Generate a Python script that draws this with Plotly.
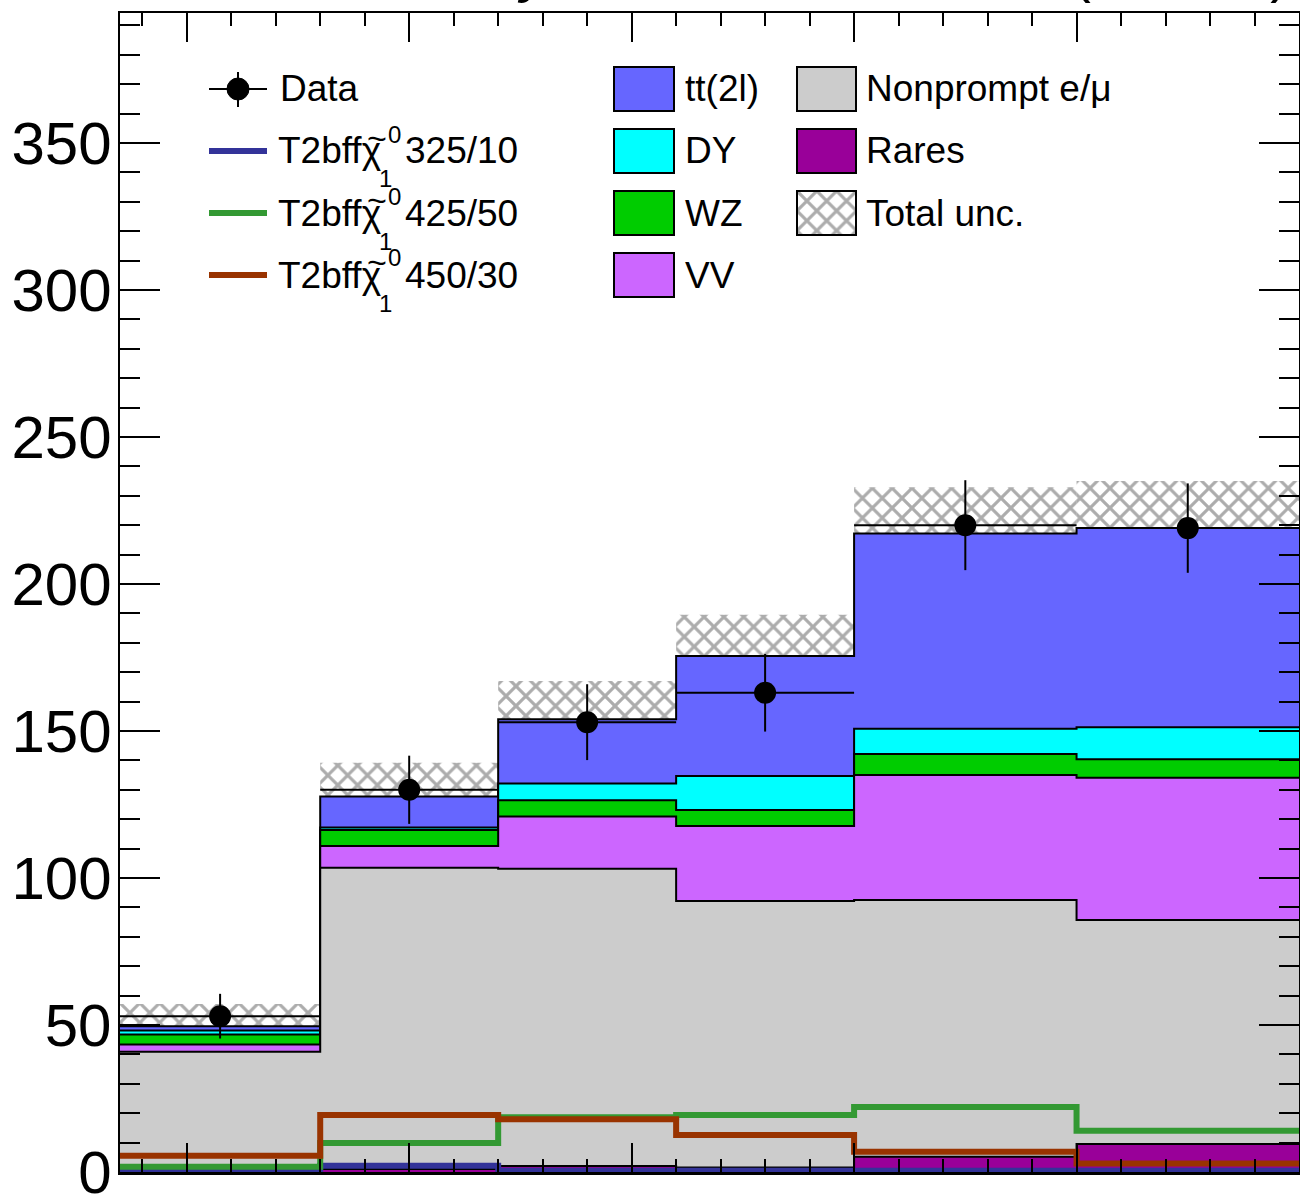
import plotly.graph_objects as go

# ---------------- data ----------------
bin_edges = [70, 160, 240, 320, 400, 500, 600]

rares     = [0.5, 1.0, 2.0, 1.5, 5.2, 9.5]
nonprompt = [40.4, 102.5, 101.1, 90.7, 87.3, 76.2]
vv        = [2.5, 7.4, 17.8, 25.5, 42.5, 48.4]
wz        = [3.4, 5.4, 5.5, 5.4, 7.2, 6.3]
dy        = [1.3, 0.9, 5.7, 11.6, 8.6, 10.9]
ttbar     = [1.5, 10.5, 21.9, 40.8, 66.4, 67.7]
total_unc = [7.5, 11.5, 13.0, 14.0, 15.7, 16.0]

data     = [53, 130, 153, 163, 220, 219]
data_err = [7.6, 11.6, 12.9, 13.2, 15.3, 15.2]

sig_325_10 = [0.0, 2.1, 0.4, 0.4, 0.4, 0.4]
sig_425_50 = [1.8, 9.9, 18.6, 19.4, 22.1, 14.0]
sig_450_30 = [5.5, 19.4, 17.9, 12.6, 6.9, 2.9]

bkg_names = ["Rares", "Nonprompt e/\u03bc", "VV", "WZ", "DY", "tt(2l)"]
bkg_colors = ["#990099", "#cccccc", "#cc66ff", "#00cc00", "#00ffff", "#6666ff"]
sig_names = ["325/10", "425/50", "450/30"]
sig_colors = ["#333399", "#339933", "#993300"]

# ---------------- helpers ----------------
FONT = "Liberation Sans, Arial, Helvetica, sans-serif"
L, R, T, B = 120, 1, 13, 29
W, H = 1300, 1201
PW, PH = W - L - R, H - T - B


def X(p):
    return (p - L) / PW


def Y(p):
    return (H - B - p) / PH


centers = [(bin_edges[i] + bin_edges[i + 1]) / 2 for i in range(6)]
widths = [bin_edges[i + 1] - bin_edges[i] for i in range(6)]
half_w = [w / 2 for w in widths]

fig = go.Figure()

# stacked backgrounds: draw cumulative levels from top to bottom
bkg_vals = [rares, nonprompt, vv, wz, dy, ttbar]
cum = [0.0] * 6
levels = []
for vals in bkg_vals:
    cum = [c + v for c, v in zip(cum, vals)]
    levels.append(list(cum))
total = levels[-1]

for lev, col in reversed(list(zip(levels, bkg_colors))):
    fig.add_trace(go.Scatter(
        x=bin_edges, y=lev + [lev[-1]], mode="lines",
        line=dict(shape="hv", color="black", width=2),
        fill="tozeroy", fillcolor=col, hoverinfo="skip", showlegend=False))

HATCH = dict(shape="x", fgcolor="#595959", size=14, solidity=0.4, fillmode="overlay")

# total uncertainty hatch
fig.add_trace(go.Bar(
    x=centers, y=[2 * u for u in total_unc],
    base=[t - u for t, u in zip(total, total_unc)],
    width=widths,
    marker=dict(color="rgba(0,0,0,0)", line=dict(width=0),
                pattern=dict(bgcolor="rgba(0,0,0,0)", **HATCH)),
    showlegend=False, hoverinfo="skip"))

# signals
for vals, col in zip([sig_325_10, sig_425_50, sig_450_30], sig_colors):
    fig.add_trace(go.Scatter(
        x=bin_edges, y=vals + [vals[-1]], mode="lines",
        line=dict(shape="hv", color=col, width=6), showlegend=False, hoverinfo="skip"))

# data
fig.add_trace(go.Scatter(
    x=centers, y=data, mode="markers",
    marker=dict(size=22, color="black"),
    error_y=dict(type="data", array=data_err, thickness=2, width=0, color="black"),
    error_x=dict(type="data", array=half_w, thickness=2, width=0, color="black"),
    showlegend=False, hoverinfo="skip"))

# hatch swatch for the legend (own small axes)
fig.add_trace(go.Bar(
    x=[0.5], y=[1], width=[1], xaxis="x2", yaxis="y2",
    marker=dict(color="rgba(0,0,0,0)", line=dict(width=0),
                pattern=dict(bgcolor="white", **HATCH)),
    showlegend=False, hoverinfo="skip"))

shapes = []
annotations = []

rows = [89, 151, 213, 275]
FS = 37


def text(x, y, s, size=FS, anchor="left"):
    annotations.append(dict(x=X(x), y=Y(y), xref="paper", yref="paper", text=s,
                            showarrow=False, xanchor=anchor, yanchor="middle",
                            font=dict(family=FONT, size=size, color="black")))


# column 1: Data
shapes.append(dict(type="line", xref="paper", yref="paper", x0=X(209), x1=X(267),
                   y0=Y(rows[0]), y1=Y(rows[0]), line=dict(color="black", width=2)))
shapes.append(dict(type="line", xref="paper", yref="paper", x0=X(238), x1=X(238),
                   y0=Y(72), y1=Y(107), line=dict(color="black", width=2)))
shapes.append(dict(type="circle", xref="paper", yref="paper", x0=X(227), x1=X(249),
                   y0=Y(100), y1=Y(78), fillcolor="black", line=dict(color="black", width=1)))
text(278, rows[0], "Data")

# column 1: signals
for yc, name, col in zip(rows[1:], sig_names, sig_colors):
    shapes.append(dict(type="line", xref="paper", yref="paper", x0=X(209), x1=X(267),
                       y0=Y(yc), y1=Y(yc), line=dict(color=col, width=6)))
    text(276, yc, "T2bff\u03c7")
    text(377, yc - 13, "~", size=34, anchor="center")
    text(386, yc - 17, "0", size=24)
    text(377, yc + 28, "1", size=24)
    text(403, yc, name)

# column 2 and 3 boxes
col2 = [("tt(2l)", bkg_colors[5]), ("DY", bkg_colors[4]), ("WZ", bkg_colors[3]), ("VV", bkg_colors[2])]
for yc, (name, col) in zip(rows, col2):
    shapes.append(dict(type="rect", xref="paper", yref="paper", x0=X(614), x1=X(674),
                       y0=Y(yc + 22), y1=Y(yc - 22), fillcolor=col,
                       line=dict(color="black", width=2)))
    text(683, yc, name)

col3 = [("Nonprompt e/\u03bc", bkg_colors[1]), ("Rares", bkg_colors[0])]
for yc, (name, col) in zip(rows[:2], col3):
    shapes.append(dict(type="rect", xref="paper", yref="paper", x0=X(797), x1=X(856),
                       y0=Y(yc + 22), y1=Y(yc - 22), fillcolor=col,
                       line=dict(color="black", width=2)))
    text(864, yc, name)
shapes.append(dict(type="rect", xref="paper", yref="paper", x0=X(797), x1=X(856),
                   y0=Y(rows[2] + 22), y1=Y(rows[2] - 22), fillcolor="rgba(0,0,0,0)",
                   line=dict(color="black", width=2)))
text(864, rows[2], "Total unc.")

# top labels (mostly cut off by the image top, as in the reference)
annotations.append(dict(x=X(120), y=Y(5), xref="paper", yref="paper",
                        text="<b>CMS</b> <i>Preliminary</i>", showarrow=False,
                        xanchor="left", yanchor="bottom",
                        font=dict(family=FONT, size=57, color="black")))
annotations.append(dict(x=X(1292), y=Y(5), xref="paper", yref="paper",
                        text="137 fb<sup>-1</sup> (13 TeV)", showarrow=False,
                        xanchor="right", yanchor="bottom",
                        font=dict(family=FONT, size=58, color="black")))

axis_common = dict(showgrid=False, zeroline=False, showline=True, linecolor="black",
                   linewidth=2.5, mirror="allticks", ticks="inside", tickcolor="black",
                   tickwidth=2, automargin=False)

fig.update_layout(
    width=W, height=H,
    margin=dict(l=L, r=R, t=T, b=B, pad=0, autoexpand=False),
    paper_bgcolor="white", plot_bgcolor="white",
    barmode="overlay", showlegend=False,
    font=dict(family=FONT, color="black"),
    xaxis=dict(range=[70, 600], tick0=0, dtick=100, ticklen=29, showticklabels=False,
               minor=dict(ticks="inside", dtick=20, tick0=0, ticklen=13, tickwidth=2,
                          tickcolor="black", showgrid=False),
               **axis_common),
    yaxis=dict(range=[0, 394.2], tick0=0, dtick=50, ticklen=40,
               tickfont=dict(family=FONT, size=60, color="black"),
               ticklabeloverflow="allow", ticklabelstandoff=-6,
               minor=dict(ticks="inside", dtick=10, tick0=0, ticklen=20, tickwidth=2,
                          tickcolor="black", showgrid=False),
               **axis_common),
    xaxis2=dict(domain=[X(797), X(856)], range=[0, 1], visible=False, anchor="y2"),
    yaxis2=dict(domain=[Y(rows[2] + 22), Y(rows[2] - 22)], range=[0, 1], visible=False,
                anchor="x2"),
    shapes=shapes,
    annotations=annotations,
)

post = (
    "document.documentElement.style.overflow='hidden';"
    "document.body.style.margin='0';document.body.style.padding='0';"
    "document.body.style.overflow='hidden';"
)

fig.write_html("out.html",
               config={"displayModeBar": False, "staticPlot": True},
               post_script=post)
